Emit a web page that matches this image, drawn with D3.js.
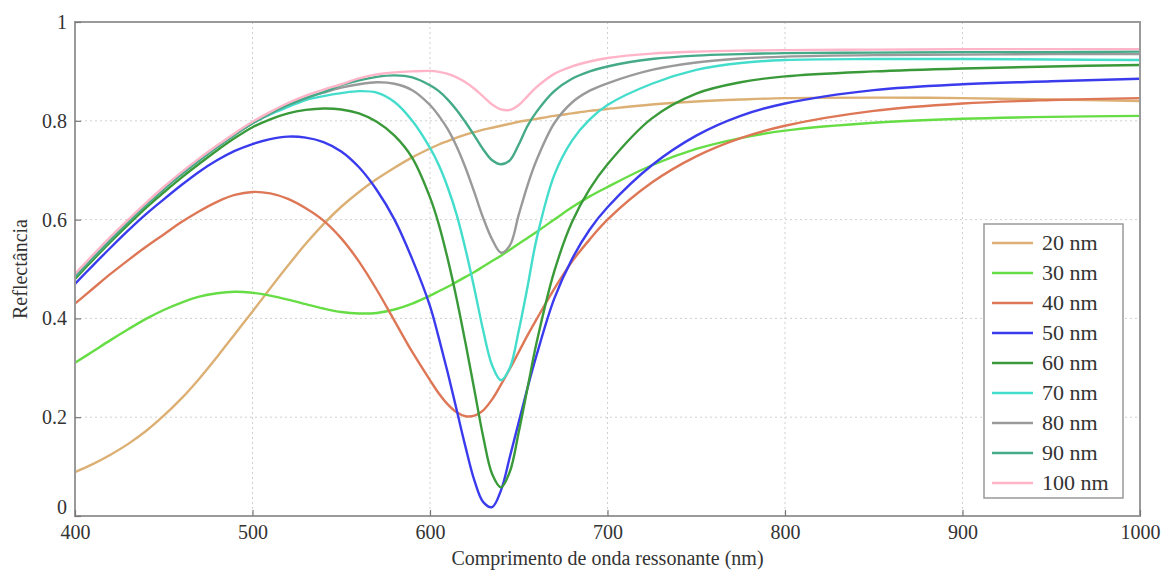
<!DOCTYPE html>
<html><head><meta charset="utf-8">
<script src="https://cdn.jsdelivr.net/npm/d3@7"></script>
<style>body{margin:0;background:#fff;} svg text{font-family:"Liberation Serif","Times New Roman","DejaVu Serif",serif !important;fill:#333;}</style>
</head><body><svg id="c" width="1166" height="570"></svg>
<script>
const wavelengths = [400,410,420,430,440,450,460,470,480,490,500,510,520,530,540,550,560,570,580,590,600,605,610,615,620,625,630,635,640,645,650,655,660,670,680,690,700,725,750,775,800,850,900,950,1000];
const seriesNames = ["20 nm","30 nm","40 nm","50 nm","60 nm","70 nm","80 nm","90 nm","100 nm"];
const seriesColors = ["#dcb074","#66dd44","#dd7756","#3b3bee","#3a9a3a","#44ddcc","#9a9a9a","#44aa88","#ffb4c8"];
const r20  = [0.089,0.105,0.124,0.146,0.172,0.203,0.238,0.278,0.322,0.368,0.414,0.461,0.507,0.551,0.591,0.626,0.656,0.682,0.705,0.726,0.744,0.752,0.759,0.766,0.772,0.777,0.782,0.786,0.790,0.794,0.798,0.801,0.804,0.810,0.815,0.820,0.824,0.833,0.839,0.843,0.846,0.847,0.846,0.843,0.840];
const r30  = [0.310,0.333,0.356,0.378,0.399,0.417,0.432,0.444,0.451,0.454,0.452,0.446,0.438,0.429,0.420,0.413,0.410,0.411,0.418,0.430,0.446,0.455,0.464,0.474,0.484,0.494,0.505,0.516,0.527,0.539,0.551,0.563,0.575,0.600,0.625,0.647,0.666,0.710,0.743,0.765,0.780,0.796,0.804,0.808,0.810];
const r40  = [0.430,0.460,0.490,0.518,0.545,0.570,0.595,0.617,0.636,0.650,0.656,0.653,0.642,0.623,0.598,0.562,0.515,0.458,0.395,0.332,0.275,0.248,0.226,0.210,0.202,0.203,0.214,0.236,0.266,0.298,0.332,0.366,0.398,0.460,0.515,0.560,0.600,0.675,0.728,0.765,0.790,0.820,0.835,0.842,0.846];
const r50  = [0.470,0.507,0.543,0.578,0.611,0.641,0.670,0.697,0.720,0.739,0.753,0.763,0.768,0.766,0.757,0.738,0.706,0.660,0.600,0.520,0.425,0.360,0.290,0.215,0.140,0.072,0.028,0.018,0.052,0.120,0.190,0.260,0.325,0.440,0.520,0.580,0.625,0.710,0.770,0.810,0.835,0.862,0.874,0.880,0.885];
const r60  = [0.480,0.518,0.555,0.590,0.624,0.655,0.685,0.713,0.740,0.765,0.787,0.803,0.815,0.822,0.825,0.823,0.815,0.798,0.770,0.725,0.645,0.590,0.520,0.440,0.350,0.255,0.160,0.085,0.058,0.090,0.170,0.260,0.350,0.495,0.595,0.662,0.712,0.805,0.855,0.878,0.890,0.900,0.906,0.910,0.913];
const r70  = [0.485,0.523,0.560,0.596,0.630,0.662,0.692,0.720,0.747,0.772,0.795,0.813,0.828,0.842,0.850,0.856,0.860,0.857,0.838,0.800,0.745,0.710,0.665,0.610,0.540,0.460,0.375,0.305,0.275,0.300,0.375,0.465,0.560,0.690,0.760,0.803,0.832,0.875,0.903,0.917,0.923,0.925,0.925,0.924,0.923];
const r80  = [0.485,0.523,0.560,0.596,0.630,0.662,0.692,0.720,0.747,0.772,0.795,0.815,0.832,0.846,0.857,0.867,0.874,0.878,0.875,0.862,0.832,0.810,0.783,0.748,0.705,0.655,0.603,0.560,0.533,0.548,0.610,0.670,0.720,0.795,0.837,0.861,0.876,0.903,0.918,0.926,0.930,0.933,0.934,0.935,0.935];
const r90  = [0.485,0.523,0.560,0.596,0.630,0.662,0.692,0.720,0.747,0.772,0.795,0.815,0.832,0.846,0.858,0.872,0.882,0.889,0.892,0.888,0.872,0.860,0.843,0.822,0.797,0.770,0.742,0.720,0.712,0.720,0.752,0.790,0.818,0.860,0.885,0.900,0.910,0.925,0.932,0.935,0.937,0.938,0.939,0.939,0.940];
const r100 = [0.490,0.528,0.565,0.600,0.634,0.666,0.696,0.724,0.750,0.775,0.798,0.818,0.836,0.851,0.863,0.874,0.886,0.894,0.898,0.900,0.901,0.899,0.895,0.888,0.878,0.865,0.849,0.833,0.823,0.822,0.832,0.850,0.868,0.895,0.910,0.920,0.927,0.936,0.940,0.942,0.943,0.944,0.945,0.945,0.945];
const seriesValues = [r20,r30,r40,r50,r60,r70,r80,r90,r100];
const xTicks = [400,500,600,700,800,900,1000];
const yTicks = [0,0.2,0.4,0.6,0.8,1];
const xTitle = "Comprimento de onda ressonante (nm)";
const yTitle = "Reflectância";

const FONT = '"Liberation Serif","Times New Roman","DejaVu Serif",serif';
const svg = d3.select("#c");
const L=75, R=1140, T=22, B=516;
const x = d3.scaleLinear().domain([400,1000]).range([L,R]);
const y = d3.scaleLinear().domain([0,1]).range([B,T]);

// grid
const g = svg.append("g");
g.selectAll(".gx").data(xTicks).enter().append("line")
  .attr("x1",d=>x(d)).attr("x2",d=>x(d)).attr("y1",T).attr("y2",B)
  .attr("stroke","#d0d0d0").attr("stroke-width",1).attr("stroke-dasharray","2,3");
g.selectAll(".gy").data(yTicks).enter().append("line")
  .attr("y1",d=>y(d)).attr("y2",d=>y(d)).attr("x1",L).attr("x2",R)
  .attr("stroke","#d0d0d0").attr("stroke-width",1).attr("stroke-dasharray","2,3");

// lines
const line = d3.line().x((d,i)=>x(wavelengths[i])).y(d=>y(d)).curve(d3.curveCatmullRom.alpha(0.5));
seriesValues.forEach((vals,k)=>{
  svg.append("path").datum(vals).attr("d",line).attr("fill","none")
    .attr("stroke",seriesColors[k]).attr("stroke-width",2.4).attr("stroke-linejoin","round");
});

// frame
svg.append("rect").attr("x",L).attr("y",T).attr("width",R-L).attr("height",B-T)
  .attr("fill","none").attr("stroke","#9a9a9a").attr("stroke-width",2);

// axes
const xAxis = d3.axisBottom(x).tickValues(xTicks).tickFormat(d3.format("d")).tickSizeInner(-6).tickSizeOuter(0).tickPadding(9);
const xa = svg.append("g").attr("transform",`translate(0,${B})`).call(xAxis);
const yAxis = d3.axisLeft(y).tickValues(yTicks).tickFormat(d=>d===0?"0":d===1?"1":d3.format(".1f")(d)).tickSizeInner(-6).tickSizeOuter(0).tickPadding(6);
const ya = svg.append("g").attr("transform",`translate(${L},0)`).call(yAxis);
[xa,ya].forEach(a=>{
  a.attr("font-family",FONT);
  a.select(".domain").remove();
  a.selectAll(".tick line").attr("stroke","#777").attr("stroke-width",1.2);
  a.selectAll(".tick text").attr("font-size",20).style("font-family",FONT).style("fill","#333");
});
ya.selectAll(".tick text").attr("dx","-2");
ya.selectAll(".tick text").filter(d=>d===0).attr("dy","-0.12em");

svg.append("text").attr("x",(L+R)/2).attr("y",565).attr("text-anchor","middle")
  .attr("font-size",20).style("font-family",FONT).text(xTitle);
svg.append("text").attr("transform",`translate(27,${(T+B)/2}) rotate(-90)`).attr("text-anchor","middle")
  .attr("font-size",20).style("font-family",FONT).text(yTitle);

// legend
const lg = svg.append("g");
lg.append("rect").attr("x",984).attr("y",224).attr("width",139).attr("height",274)
  .attr("fill","#fff").attr("stroke","#999").attr("stroke-width",1.5);
seriesNames.forEach((n,k)=>{
  const yy = 243 + k*30;
  lg.append("line").attr("x1",992).attr("x2",1033).attr("y1",yy).attr("y2",yy)
    .attr("stroke",seriesColors[k]).attr("stroke-width",2.4);
  lg.append("text").attr("x",1042).attr("y",yy+7).attr("font-size",22).style("font-family",FONT).text(n);
});
</script></body></html>
